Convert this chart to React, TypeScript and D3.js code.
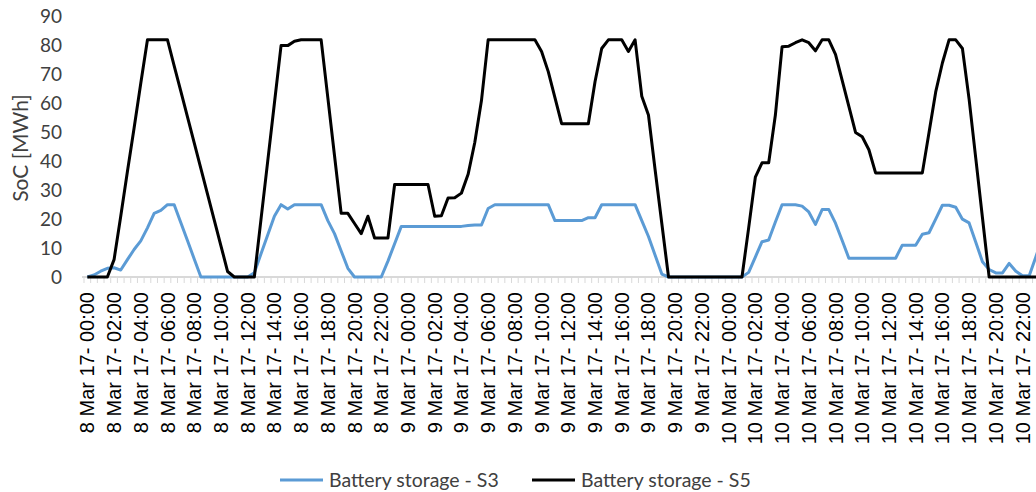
import React from "react";
import * as d3 from "d3";

// Half-hourly categories 8 Mar 17 00:00 .. 10 Mar 17 23:30
const days = ["8", "9", "10"];
const categories: string[] = [];
days.forEach((d) => {
  for (let h = 0; h < 24; h++) {
    for (const m of ["00", "30"]) {
      categories.push(`${d} Mar 17- ${String(h).padStart(2, "0")}:${m}`);
    }
  }
});

const yTicks = [0, 10, 20, 30, 40, 50, 60, 70, 80, 90];

// Battery storage - S3 (blue)
const seriesS3 = [
  0, 0.7, 2, 3, 3.2, 2.4, 6, 9.5, 12.5, 17, 22, 23,
  25, 25, 18.75, 12.5, 6.25, 0, 0, 0, 0, 0, 0, 0,
  0, 1.5, 8, 14.5, 21, 25, 23.5, 25, 25, 25, 25, 25,
  19.5, 15, 9, 3, 0, 0, 0, 0, 0, 5.5, 11.5, 17.5,
  17.5, 17.5, 17.5, 17.5, 17.5, 17.5, 17.5, 17.5, 17.5, 17.8, 18, 18,
  23.7, 25, 25, 25, 25, 25, 25, 25, 25, 25, 19.5, 19.5,
  19.5, 19.5, 19.5, 20.5, 20.5, 25, 25, 25, 25, 25, 25, 19.5,
  14, 7.5, 1, 0, 0, 0, 0, 0, 0, 0, 0, 0,
  0, 0, 0, 1.6, 6.9, 12.2, 12.8, 19, 25, 25, 25, 24.5,
  22.5, 18.2, 23.3, 23.3, 18.6, 12.6, 6.5, 6.5, 6.5, 6.5, 6.5, 6.5,
  6.5, 6.5, 11, 11, 11, 14.8, 15.3, 20, 24.8, 24.8, 24.1, 20,
  18.7, 12, 5.3, 2.6, 1.4, 1.4, 4.7, 2, 0.4, 0.4, 7, 14,
];

// Battery storage - S5 (black)
const seriesS5 = [
  0, 0, 0, 0, 6, 21, 36.5, 51.5, 67, 82, 82, 82,
  82, 73, 64.2, 55.3, 46.4, 37.5, 28.6, 19.7, 10.8, 1.9, 0, 0,
  0, 0, 20, 40, 60, 80, 80, 81.5, 82, 82, 82, 82,
  62, 42, 22, 22, 18.5, 15, 21, 13.5, 13.5, 13.5, 32, 32,
  32, 32, 32, 32, 21, 21.2, 27.3, 27.4, 29, 35.5, 46.5, 61,
  82, 82, 82, 82, 82, 82, 82, 82, 78, 71, 62, 53,
  53, 53, 53, 53, 67.5, 79, 82, 82, 82, 78, 82, 62.5,
  56, 37, 18.5, 0, 0, 0, 0, 0, 0, 0, 0, 0,
  0, 0, 0, 17, 34.5, 39.5, 39.5, 56, 79.6, 79.8, 81, 82,
  81, 78.2, 82, 82, 77, 68, 59, 50, 48.5, 44, 36, 36,
  36, 36, 36, 36, 36, 36, 50, 64, 74, 82, 82, 79,
  61.5, 41, 20.5, 0, 0, 0, 0, 0, 0, 0, 0, 0,
];

const seriesNames = ["Battery storage - S3", "Battery storage - S5"];
const seriesColors = ["#5B9BD5", "#000000"];

const W = 1036;
const H = 492;
const plotLeft = 84;
const step = 6.68;
const plotTop = 16.7;
const plotBottom = 277;

export default function App() {
  const x = d3
    .scaleBand<string>()
    .domain(categories)
    .range([plotLeft, plotLeft + step * categories.length])
    .padding(0);
  const xc = (i: number) => (x(categories[i]) as number) + x.bandwidth() / 2;
  const y = d3.scaleLinear().domain([0, 90]).range([plotBottom, plotTop]);

  const line = d3
    .line<number>()
    .x((_, i) => xc(i))
    .y((d) => y(d));

  const calibri = "Lato, 'Open Sans', sans-serif";
  const arial = "'Liberation Sans', Arial, sans-serif";

  return (
    <svg
      width={W}
      height={H}
      style={{ position: "absolute", left: 0, top: 0, background: "#fff" }}
    >
      <rect x={0} y={0} width={W} height={H} fill="#fff" />
      {/* x axis line and ticks */}
      <line
        x1={plotLeft - 2}
        x2={plotLeft + step * categories.length}
        y1={y(0)}
        y2={y(0)}
        stroke="#d9d9d9"
        strokeWidth={2}
      />
      {d3.range(categories.length + 1).map((k) => (
        <line
          key={"t" + k}
          x1={plotLeft + k * step}
          x2={plotLeft + k * step}
          y1={y(0)}
          y2={y(0) + 6}
          stroke="#d9d9d9"
          strokeWidth={1}
        />
      ))}
      {/* y tick labels */}
      {yTicks.map((t) => (
        <text
          key={"y" + t}
          x={62}
          y={y(t)}
          dy="0.35em"
          textAnchor="end"
          fontFamily={calibri}
          fontSize={19}
          fill="#404040"
        >
          {t}
        </text>
      ))}
      {/* y title */}
      <text
        transform="translate(21,148) rotate(-90)"
        textAnchor="middle"
        dy="0.35em"
        fontFamily={calibri}
        fontSize={21}
        fill="#404040"
      >
        SoC [MWh]
      </text>
      {/* x labels */}
      {categories.map((c, i) =>
        i % 4 === 0 ? (
          <text
            key={"x" + i}
            transform={`translate(${xc(i)},292) rotate(-90)`}
            textAnchor="end"
            dy="0.35em"
            fontFamily={arial}
            fontSize={20}
            fill="#000"
          >
            {c}
          </text>
        ) : null
      )}
      {/* series */}
      <path d={line(seriesS3) || ""} fill="none" stroke={seriesColors[0]} strokeWidth={3} strokeLinejoin="round" />
      <path d={line(seriesS5) || ""} fill="none" stroke={seriesColors[1]} strokeWidth={3} strokeLinejoin="round" />
      {/* legend */}
      {[0, 1].map((k) => {
        const lx = k === 0 ? 280 : 532;
        return (
          <g key={"lg" + k}>
            <line x1={lx} x2={lx + 43} y1={480} y2={480} stroke={seriesColors[k]} strokeWidth={3} />
            <text x={lx + 49} y={480} dy="0.35em" fontFamily={calibri} fontSize={19.5} fill="#404040">
              {seriesNames[k]}
            </text>
          </g>
        );
      })}
    </svg>
  );
}
